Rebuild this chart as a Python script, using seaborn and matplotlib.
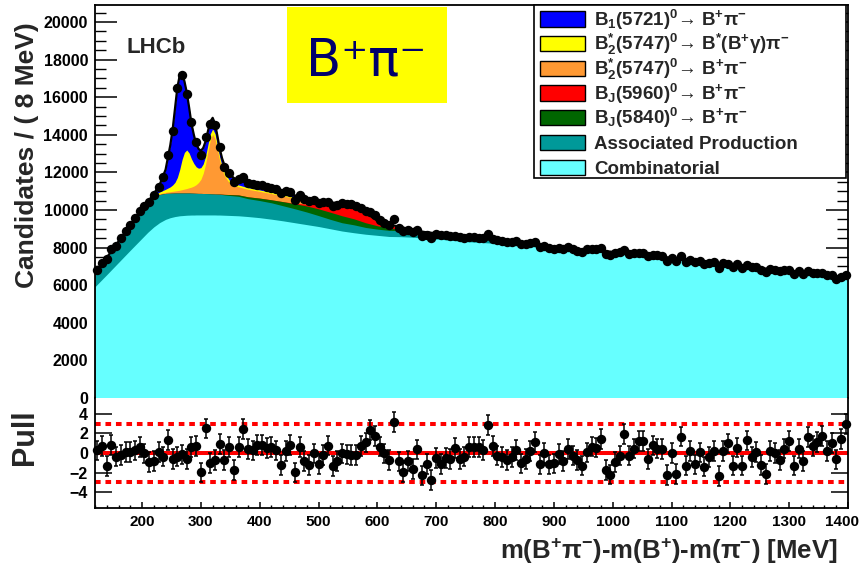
import numpy as np
import matplotlib
matplotlib.use("Agg")
import matplotlib.pyplot as plt
import matplotlib.transforms as mtransforms
from matplotlib.patches import Rectangle
from matplotlib.ticker import MultipleLocator
import seaborn as sns

# ---------------- data ----------------
bin_lo, bin_hi, bin_w = 120, 1400, 8

knots = [120, 140, 160, 180, 200, 210, 220, 230, 240, 248, 252, 256, 260, 264, 268, 272, 276,
         280, 284, 288, 292, 296, 300, 304, 308, 312, 316, 320, 324, 328, 332, 336, 340, 348,
         356, 364, 380, 400, 420, 440, 460, 480, 500, 520, 540, 560, 580, 600, 620, 640, 660,
         680, 700, 750, 800, 850, 900, 950, 1000, 1050, 1100, 1150, 1200, 1250, 1300, 1350, 1400]

combinatorial = [5920, 6560, 7210, 7860, 8500, 8820, 9100, 9330, 9500, 9590, 9620, 9650, 9670,
                 9690, 9700, 9710, 9720, 9725, 9730, 9730, 9735, 9735, 9735, 9735, 9735, 9735,
                 9735, 9735, 9735, 9730, 9730, 9725, 9720, 9710, 9700, 9690, 9650, 9590, 9510,
                 9420, 9320, 9220, 9120, 9000, 8880, 8790, 8710, 8650, 8590, 8580, 8550, 8500,
                 8460, 8320, 8225, 8100, 7930, 7835, 7715, 7577, 7430, 7258, 7064, 6909, 6724,
                 6555, 6350]
associated = [700, 910, 1120, 1320, 1500, 1560, 1620, 1490, 1380, 1300, 1275, 1250, 1230, 1210,
              1200, 1190, 1180, 1175, 1165, 1160, 1150, 1145, 1145, 1140, 1135, 1130, 1120, 1115,
              1110, 1105, 1100, 1095, 1080, 1065, 1050, 1035, 950, 910, 870, 800, 740, 670, 580,
              500, 440, 420, 360, 330, 325, 315, 300, 275, 260, 210, 150, 115, 85, 65, 50, 38,
              28, 20, 15, 10, 6, 5, 2]
bj5840 = [0, 0, 0, 0, 0, 0, 0, 0, 0, 0, 0, 0, 0, 0, 0, 0, 0, 0, 0, 0, 0, 0, 0, 0, 0, 0, 0, 0, 0,
          10, 15, 20, 30, 45, 60, 75, 100, 130, 160, 220, 270, 320, 360, 380, 370, 320, 250, 180,
          120, 70, 35, 20, 10, 5, 0, 0, 0, 0, 0, 0, 0, 0, 0, 0, 0, 0, 0]
bj5960 = [0, 0, 0, 0, 0, 0, 0, 0, 0, 0, 0, 0, 0, 0, 0, 0, 0, 0, 0, 0, 0, 0, 0, 0, 0, 0, 0, 0, 0,
          0, 0, 0, 0, 0, 0, 0, 0, 0, 0, 0, 30, 100, 220, 330, 560, 675, 460, 205, 150, 90, 25,
          10, 5, 0, 0, 0, 0, 0, 0, 0, 0, 0, 0, 0, 0, 0, 0]
b2_bpi = [0, 0, 0, 0, 10, 15, 30, 45, 60, 80, 95, 110, 130, 150, 180, 210, 240, 280, 320, 380,
          460, 580, 750, 1075, 1570, 2255, 2875, 3170, 2950, 2370, 1750, 1305, 995, 635, 485, 430,
          400, 360, 330, 300, 260, 210, 150, 100, 50, 40, 30, 25, 20, 15, 12, 10, 10, 8, 6, 5, 4,
          3, 2, 2, 1, 1, 1, 1, 0, 0, 0]
b2_bstar = [0, 0, 0, 0, 10, 25, 50, 90, 160, 260, 340, 460, 700, 1100, 1600, 1950, 2050, 1850,
            1500, 1200, 950, 760, 620, 500, 420, 360, 320, 290, 265, 245, 220, 195, 175, 140, 115,
            100, 85, 75, 70, 60, 50, 40, 30, 25, 15, 10, 8, 6, 5, 4, 3, 2, 2, 1, 1, 1, 0, 0, 0, 0,
            0, 0, 0, 0, 0, 0, 0]
b1 = [0, 0, 0, 10, 10, 20, 60, 395, 1050, 2220, 2960, 3930, 4790, 5000, 4520, 3790, 3060, 2420,
      1875, 1530, 1225, 1030, 900, 850, 790, 720, 650, 590, 540, 490, 450, 410, 380, 330, 290,
      260, 220, 180, 150, 125, 105, 85, 70, 55, 45, 35, 30, 25, 20, 18, 15, 12, 10, 8, 6, 5, 4, 3,
      2, 2, 1, 1, 0, 0, 0, 0, 0]

data_counts = [
    6810, 7200, 7390, 7920, 8100, 8500, 8880, 9220, 9590, 9950,
    10210, 10430, 10780, 11240, 11760, 12900, 14220, 16470, 17160, 16170,
    14660, 13600, 12930, 13900, 14570, 14520, 13370, 12300, 11990, 11510,
    11650, 11740, 11420, 11380, 11350, 11330, 11240, 11170, 11100, 10900,
    10990, 10950, 10550, 10770, 10600, 10500, 10520, 10350, 10410, 10440,
    10220, 10280, 10350, 10330, 10300, 10190, 10090, 9960, 9900, 9720,
    9470, 9320, 9200, 9500, 9030, 8880, 8940, 8820, 8950, 8640,
    8670, 8530, 8720, 8650, 8670, 8620, 8640, 8550, 8510, 8570,
    8560, 8520, 8510, 8730, 8460, 8400, 8340, 8290, 8290, 8330,
    8190, 8200, 8240, 8290, 8020, 8060, 7970, 7950, 7980, 7940,
    8010, 7900, 7840, 7780, 7930, 7940, 7920, 7980, 7680, 7600,
    7690, 7740, 7880, 7680, 7700, 7730, 7730, 7540, 7610, 7600,
    7530, 7290, 7460, 7260, 7560, 7250, 7350, 7240, 7280, 7130,
    7180, 7210, 6940, 7160, 7130, 6970, 7100, 6920, 7060, 6990,
    6950, 6830, 6710, 6860, 6800, 6750, 6790, 6820, 6580, 6730,
    6610, 6780, 6670, 6665, 6650, 6560, 6560, 6320, 6450, 6540]

pulls = [
    0.27, 0.69, -1.33, 0.82, -0.37, -0.21, 0.11, 0.11, 0.27, 0.59,
    -0.05, -0.91, -0.79, 0.11, -0.37, 1.33, -0.62, -0.37, -0.14, -0.62,
    0.59, 0.69, -1.97, 2.51, -1.01, -0.69, 0.91, -0.69, 0.59, -1.75,
    0.59, 2.42, 0.43, 0.27, 0.82, 0.82, 0.50, 0.59, 0.27, -1.23,
    0.18, 0.82, -1.97, 0.59, -0.79, -1.23, -0.05, -1.11, -0.21, 0.75,
    -1.33, -0.79, -0.05, -0.14, -0.21, -0.21, 0.69, 1.07, 2.36, 1.71,
    0.66, -0.05, -0.69, 3.16, -0.85, -1.97, -0.79, -1.65, 0.37, -2.29,
    -1.11, -2.77, -0.53, -1.11, -0.53, -0.59, 0.50, -0.59, -0.37, 0.59,
    0.59, 0.59, 0.30, 2.85, 0.71, -0.26, -0.42, -0.74, -0.42, 0.32,
    -1.06, -0.58, 0.23, 1.10, -1.16, 0.00, -1.16, -1.06, -0.10, -0.84,
    0.39, -0.26, -0.74, -1.29, 0.06, 0.65, 0.55, 1.42, -1.71, -2.19,
    -0.90, -0.26, 1.94, -0.26, 0.45, 1.19, 1.19, -0.58, 0.77, 0.45,
    0.39, -2.26, 0.00, -2.13, 1.68, -1.29, 0.23, -1.16, 0.06, -1.39,
    -0.42, 0.23, -2.35, 0.23, 0.97, -1.29, 0.55, -1.29, 1.29, -0.42,
    0.13, -1.23, -2.13, 0.23, 0.00, -0.74, 0.45, 1.19, -1.29, 0.45,
    -0.84, 1.61, 0.71, 1.10, 1.74, 0.23, 1.03, -0.65, 1.42, 2.97]

component_labels = [r'B$_{1}$(5721)$^{0}$→ B$^{+}$π$^{-}$',
                    r'B$_{2}^{*}$(5747)$^{0}$→ B$^{*}$(B$^{+}$γ)π$^{-}$',
                    r'B$_{2}^{*}$(5747)$^{0}$→ B$^{+}$π$^{-}$',
                    r'B$_{J}$(5960)$^{0}$→ B$^{+}$π$^{-}$',
                    r'B$_{J}$(5840)$^{0}$→ B$^{+}$π$^{-}$',
                    'Associated Production',
                    'Combinatorial']
component_colors = ['#0000FF', '#FFFF00', '#FF9933', '#FF0000', '#006600', '#009999', '#66FFFF']

yticks_top = [0, 2000, 4000, 6000, 8000, 10000, 12000, 14000, 16000, 18000, 20000]
xticks = [200, 300, 400, 500, 600, 700, 800, 900, 1000, 1100, 1200, 1300, 1400]
pull_ticks = [-4, -2, 0, 2, 4]

# ---------------- style ----------------
sns.set_theme(style="ticks")
plt.rcParams.update({
    'font.weight': 'bold',
    'axes.linewidth': 1.3,
    'axes.edgecolor': 'black',
    'xtick.color': 'black',
    'ytick.color': 'black',
    'axes.facecolor': 'white',
    'figure.facecolor': 'white',
    'mathtext.fontset': 'custom',
    'mathtext.rm': 'Liberation Sans:bold',
    'mathtext.it': 'Liberation Sans:bold',
    'mathtext.bf': 'Liberation Sans:bold',
    'mathtext.sf': 'Liberation Sans:bold',
    'mathtext.default': 'rm',
})
plt.rcParams['font.family'] = ['Liberation Sans', 'DejaVu Sans']

W, H = 863, 571
fig = plt.figure(figsize=(W / 100, H / 100), dpi=100)


def frac(x0, y0, x1, y1):
    return [x0 / W, 1 - y1 / H, (x1 - x0) / W, (y1 - y0) / H]


ax = fig.add_axes(frac(95, 5, 848, 398))
axp = fig.add_axes(frac(95, 398, 848, 508))

centers = np.arange(bin_lo + bin_w / 2, bin_hi, bin_w)
counts = np.array(data_counts, float)

# stacked fit components (bottom -> top)
stack = [combinatorial, associated, bj5840, bj5960, b2_bpi, b2_bstar, b1]
stack_colors = component_colors[::-1]
cum = np.cumsum(np.array(stack, float), axis=0)
for j in range(len(stack) - 1, -1, -1):
    ax.fill_between(knots, 0, cum[j], color=stack_colors[j], lw=0, zorder=1)

sns.lineplot(x=knots, y=cum[-1], color='black', lw=1.6, ax=ax, zorder=3,
             estimator=None, legend=False)

ax.errorbar(centers, counts, yerr=np.sqrt(counts), fmt='none', ecolor='black',
            elinewidth=1.0, capsize=0, zorder=4)
sns.scatterplot(x=centers, y=counts, ax=ax, color='black', s=46, linewidth=0,
                zorder=5, clip_on=False, legend=False)

ax.set_xlim(bin_lo, bin_hi)
ax.set_ylim(0, 20900)
ax.set_yticks(yticks_top)
ax.yaxis.set_minor_locator(MultipleLocator(500))
ax.set_xticks(xticks)
ax.xaxis.set_minor_locator(MultipleLocator(20))
ax.tick_params(axis='x', which='both', direction='in', bottom=True, top=False,
               labelbottom=False)
ax.tick_params(axis='x', which='major', length=4.5, width=1.1)
ax.tick_params(axis='x', which='minor', length=2.5, width=1.0)
ax.tick_params(axis='y', which='both', direction='in', left=True, right=True)
ax.tick_params(axis='y', which='major', length=16, width=1.1, labelsize=11.5, pad=5)
ax.tick_params(axis='y', which='minor', length=8, width=1.0)
ax.spines['bottom'].set_visible(False)
ax.set_xlabel('')
ax.set_ylabel('')

# ---------------- pull panel ----------------
axp.axhline(0, color='#FF0000', lw=2.9, zorder=2)
axp.axhline(3, color='#FF0000', lw=2.9, ls=(0, (1.4, 1.2)), zorder=2)
axp.axhline(-3, color='#FF0000', lw=2.9, ls=(0, (1.4, 1.2)), zorder=2)
axp.errorbar(centers, pulls, yerr=np.ones(len(pulls)), fmt='none', ecolor='black',
             elinewidth=1.1, capsize=1.6, capthick=1.1, zorder=3)
sns.scatterplot(x=centers, y=pulls, ax=axp, color='black', s=46, linewidth=0,
                zorder=4, clip_on=False, legend=False)
axp.set_xlim(bin_lo, bin_hi)
axp.set_ylim(-5.6, 5.6)
axp.set_yticks(pull_ticks)
axp.set_xticks(xticks)
axp.xaxis.set_minor_locator(MultipleLocator(20))
axp.tick_params(axis='y', which='major', direction='in', length=12, width=1.1,
                left=True, right=True, labelsize=11.5, pad=5)
axp.tick_params(axis='x', which='both', direction='in', bottom=True, top=False)
axp.tick_params(axis='x', which='major', length=4.5, width=1.1, labelsize=11, pad=5)
axp.tick_params(axis='x', which='minor', length=2.5, width=1.0)
axp.spines['top'].set_visible(False)
axp.set_xlabel('')
axp.set_ylabel('')
# nudge the last x tick label so it stays inside the canvas (as in the reference)
last_tick = axp.xaxis.get_major_ticks()[-1]
last_tick.label1.set_transform(last_tick.label1.get_transform() +
                               mtransforms.ScaledTranslation(-0.06, 0, fig.dpi_scale_trans))

# ---------------- labels ----------------
ax.text((27 - 95) / 753, 0.618, 'Candidates / ( 8 MeV)', transform=ax.transAxes,
        rotation=90, ha='center', va='center', fontsize=19, fontweight='bold')
axp.text((25 - 95) / 753, 0.645, 'Pull', transform=axp.transAxes, rotation=90,
         ha='center', va='center', fontsize=22, fontweight='bold')
axp.text((838 - 95) / 753, (508 - 551) / 110,
         r'm(B$^{+}$π$^{-}$)-m(B$^{+}$)-m(π$^{-}$) [MeV]', transform=axp.transAxes,
         ha='right', va='center', fontsize=18.5, fontweight='bold')

fig.text(127 / W, 1 - 53 / H, 'LHCb', fontsize=16, fontweight='bold', va='baseline',
         ha='left', zorder=11)

# yellow label box
fig.add_artist(Rectangle((287 / W, 1 - 103 / H), 160 / W, 96 / H, transform=fig.transFigure,
                         facecolor='#FFFF00', edgecolor='none', zorder=9))
fig.text(366 / W, 1 - 75 / H, 'B⁺π⁻', fontsize=37, color='#00006B', family='DejaVu Sans',
         fontweight='normal', ha='center', va='baseline', zorder=11)

# legend
fig.add_artist(Rectangle((534 / W, 1 - 178 / H), (846 - 534) / W, (178 - 5) / H,
                         transform=fig.transFigure, facecolor='white', edgecolor='black',
                         lw=1.2, zorder=10))
row_y = [19, 43.7, 68.3, 93, 117.7, 142.3, 167]
for lab, col, yy in zip(component_labels, component_colors, row_y):
    fig.add_artist(Rectangle((540 / W, 1 - (yy + 7.5) / H), 45 / W, 15 / H,
                             transform=fig.transFigure, facecolor=col, edgecolor='black',
                             lw=1.0, zorder=11))
    fig.text(594 / W, 1 - (yy + 6.5) / H, lab, fontsize=13.5, fontweight='bold',
             ha='left', va='baseline', zorder=12)

fig.savefig('out.png', dpi=100)
